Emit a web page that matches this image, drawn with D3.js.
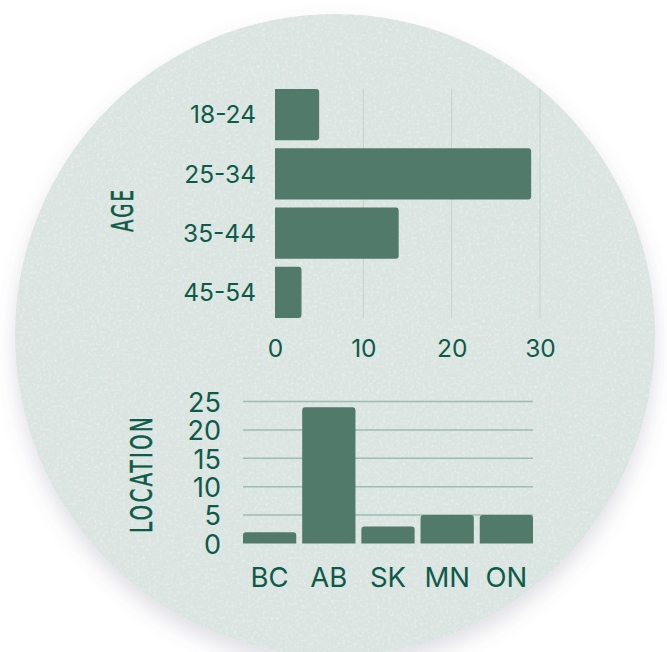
<!DOCTYPE html>
<html>
<head>
<meta charset="utf-8">
<script src="https://cdn.jsdelivr.net/npm/d3@7"></script>
<style>
  html, body { margin: 0; padding: 0; background: #ffffff; }
  svg { display: block; }
</style>
</head>
<body>
<svg id="chart" width="667" height="652"></svg>
<script>
// Survey respondents by age group
const ageGroups = ["18-24", "25-34", "35-44", "45-54"];
const ageCounts = [5, 29, 14, 3];
const ageTicks = [0, 10, 20, 30];

// Survey respondents by province
const provinces = ["BC", "AB", "SK", "MN", "ON"];
const provinceCounts = [2, 24, 3, 5, 5];
const provinceTicks = [0, 5, 10, 15, 20, 25];

const ink = "#0e5a48";
const barFill = "#527a6b";
const labelFont = "Inter, 'Open Sans', sans-serif";
const titleFont = "'DejaVu Sans Condensed', 'Liberation Sans Narrow', sans-serif";

const svg = d3.select("#chart");
const defs = svg.append("defs");

// soft shadow under the disc
const shadow = defs.append("filter").attr("id", "shadow")
  .attr("x", "-20%").attr("y", "-20%").attr("width", "140%").attr("height", "140%");
shadow.append("feGaussianBlur").attr("in", "SourceAlpha").attr("stdDeviation", 10).attr("result", "b");
shadow.append("feOffset").attr("in", "b").attr("dx", 0).attr("dy", 10).attr("result", "o");
shadow.append("feFlood").attr("flood-color", "#6c6a8a").attr("flood-opacity", 0.22).attr("result", "c");
shadow.append("feComposite").attr("in", "c").attr("in2", "o").attr("operator", "in").attr("result", "s");
const m = shadow.append("feMerge");
m.append("feMergeNode").attr("in", "s");
m.append("feMergeNode").attr("in", "SourceGraphic");

// paper grain on the disc
const grain = defs.append("filter").attr("id", "grain")
  .attr("x", 0).attr("y", 0).attr("width", "100%").attr("height", "100%");
grain.append("feTurbulence").attr("type", "fractalNoise")
  .attr("baseFrequency", 0.35).attr("numOctaves", 3).attr("seed", 7).attr("result", "n");
grain.append("feColorMatrix").attr("in", "n").attr("type", "matrix")
  .attr("values", "0 0 0 0 1  0 0 0 0 1  0 0 0 0 1  0 0 0 -2.0 1.1").attr("result", "a");
grain.append("feComposite").attr("in", "a").attr("in2", "SourceGraphic").attr("operator", "in");

const disc = { cx: 335, cy: 335, rx: 320, ry: 321 };
defs.append("clipPath").attr("id", "discClip")
  .append("ellipse").attr("cx", disc.cx).attr("cy", disc.cy).attr("rx", disc.rx).attr("ry", disc.ry);

svg.append("ellipse")
  .attr("cx", disc.cx).attr("cy", disc.cy).attr("rx", disc.rx).attr("ry", disc.ry)
  .attr("fill", "#dae4e0")
  .attr("filter", "url(#shadow)");
svg.append("g").attr("clip-path", "url(#discClip)")
  .append("rect")
  .attr("x", disc.cx - disc.rx).attr("y", disc.cy - disc.ry)
  .attr("width", disc.rx * 2).attr("height", disc.ry * 2)
  .attr("fill", "#eef3f1").attr("opacity", 0.4)
  .attr("filter", "url(#grain)");

// ---------- Age: horizontal bars ----------
const ageX = d3.scaleLinear().domain([0, 30]).range([275, 540]);
const ageY = d3.scaleBand().domain(ageGroups).range([89, 318]).paddingInner(0.135).paddingOuter(0);

const ageChart = svg.append("g");
ageChart.append("g").selectAll("line").data(ageTicks.slice(1)).join("line")
  .attr("x1", d => ageX(d)).attr("x2", d => ageX(d))
  .attr("y1", ageY.range()[0]).attr("y2", ageY.range()[1])
  .attr("stroke", "#c3d3ce").attr("stroke-width", 1);

ageChart.append("g").selectAll("path").data(ageGroups).join("path")
  .attr("fill", barFill)
  .attr("d", (g, i) => {
    const x0 = ageX(0), x1 = ageX(ageCounts[i]);
    const y0 = ageY(g), h = ageY.bandwidth(), r = 3;
    return `M${x0},${y0} H${x1 - r} Q${x1},${y0} ${x1},${y0 + r} V${y0 + h - r} Q${x1},${y0 + h} ${x1 - r},${y0 + h} H${x0} Z`;
  });

const ageYAxis = ageChart.append("g")
  .attr("transform", `translate(${ageX(0) - 19},0)`)
  .call(d3.axisLeft(ageY).tickSize(0).tickPadding(0));
const ageXAxis = ageChart.append("g")
  .attr("transform", `translate(0,${ageY.range()[1] + 30})`)
  .call(d3.axisBottom(ageX).tickValues(ageTicks).tickSize(0).tickPadding(0));
[ageYAxis, ageXAxis].forEach(a => {
  a.select(".domain").remove();
  a.selectAll("text").attr("fill", ink).attr("font-family", labelFont).attr("font-size", 24.5)
    .attr("dy", "0.36em");
});

// rotated axis titles in a tall, tracked condensed face
function axisTitle(label, x, y, length) {
  svg.append("text")
    .attr("transform", `translate(${x},${y}) rotate(-90)`)
    .attr("text-anchor", "middle")
    .attr("letter-spacing", 3)
    .attr("textLength", length).attr("lengthAdjust", "spacingAndGlyphs")
    .attr("fill", ink).attr("font-family", titleFont).attr("font-size", 30)
    .attr("stroke", ink).attr("stroke-width", 0.5)
    .text(label);
}
axisTitle("AGE", 133, 210, 44);

// ---------- Location: vertical bars ----------
const locX = d3.scaleBand().domain(provinces).range([243, 533]).paddingInner(0.1).paddingOuter(0);
const locY = d3.scaleLinear().domain([0, 25]).range([543.5, 401.5]);

const locChart = svg.append("g");
locChart.append("g").selectAll("line").data(provinceTicks.slice(1)).join("line")
  .attr("x1", locX.range()[0]).attr("x2", locX.range()[1])
  .attr("y1", d => locY(d)).attr("y2", d => locY(d))
  .attr("stroke", "#9dbdb4").attr("stroke-width", 1.5);

locChart.append("g").selectAll("path").data(provinces).join("path")
  .attr("fill", barFill)
  .attr("d", (p, i) => {
    const x0 = locX(p), w = locX.bandwidth();
    const y0 = locY(0), y1 = locY(provinceCounts[i]), r = 3;
    return `M${x0},${y0} V${y1 + r} Q${x0},${y1} ${x0 + r},${y1} H${x0 + w - r} Q${x0 + w},${y1} ${x0 + w},${y1 + r} V${y0} Z`;
  });

const locYAxis = locChart.append("g")
  .attr("transform", `translate(221,0)`)
  .call(d3.axisLeft(locY).tickValues(provinceTicks).tickSize(0).tickPadding(0));
const locXAxis = locChart.append("g")
  .attr("transform", `translate(0,577)`)
  .call(d3.axisBottom(locX).tickSize(0).tickPadding(0));
[locYAxis, locXAxis].forEach(a => {
  a.select(".domain").remove();
  a.selectAll("text").attr("fill", ink).attr("font-family", labelFont).attr("dy", "0.36em");
});
locYAxis.selectAll("text").attr("font-size", 27);
locXAxis.selectAll("text").attr("font-size", 27.5);

axisTitle("LOCATION", 152, 474, 118);
</script>
</body>
</html>
